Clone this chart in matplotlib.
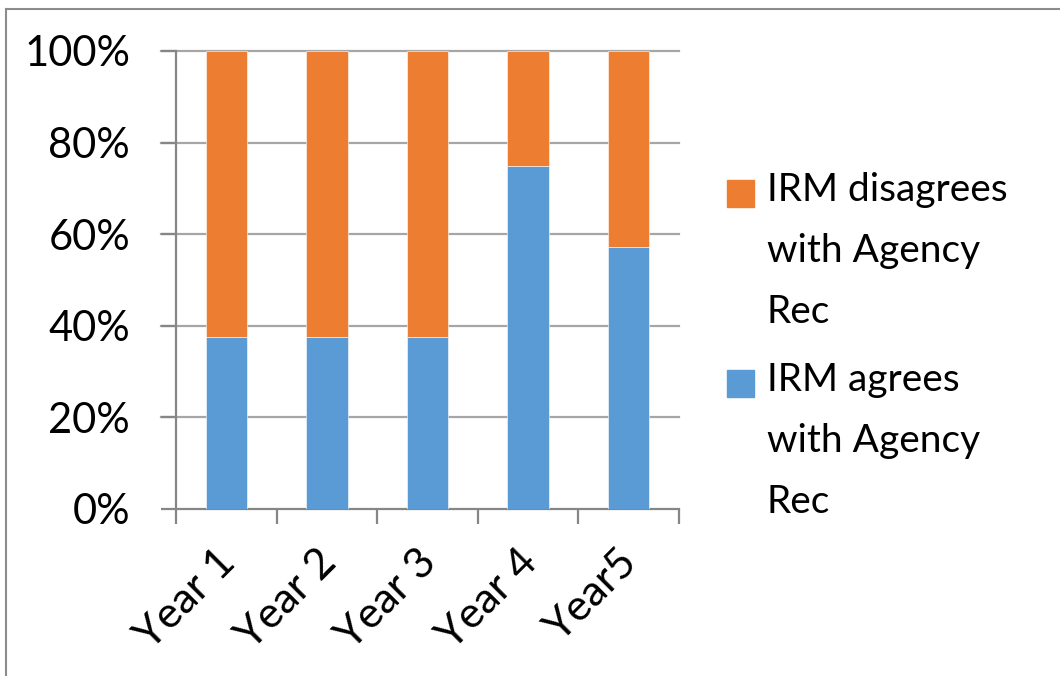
import matplotlib
matplotlib.use("Agg")
import matplotlib.pyplot as plt
from matplotlib.lines import Line2D
from matplotlib.patches import Rectangle
from matplotlib.transforms import ScaledTranslation
import numpy as np

categories = ["Year 1", "Year 2", "Year 3", "Year 4", "Year5"]
agrees = [37.5, 37.5, 37.5, 75.0, 57.1]
disagrees = [62.5, 62.5, 62.5, 25.0, 42.9]
series_labels = ["IRM disagrees\nwith Agency\nRec", "IRM agrees\nwith Agency\nRec"]
y_ticks = [0, 20, 40, 60, 80, 100]
y_tick_labels = ["0%", "20%", "40%", "60%", "80%", "100%"]

BLUE = "#5B9BD5"
ORANGE = "#ED7D31"
AXIS_GRAY = "#868686"
GRID_GRAY = "#A6A6A6"

plt.rcParams["font.family"] = ["Lato", "DejaVu Sans"]

W, H = 1060, 676
fig = plt.figure(figsize=(W / 100, H / 100), dpi=100)
ax = fig.add_axes([176 / W, 1 - 509 / H, (679 - 176) / W, (509 - 51) / H])

x = np.arange(len(categories))
ax.bar(x, agrees, width=0.41, color=BLUE, edgecolor="white", linewidth=0.4, zorder=3)
ax.bar(x, disagrees, width=0.41, bottom=agrees, color=ORANGE,
       edgecolor="white", linewidth=0.4, zorder=3)

ax.set_xlim(-0.5, len(categories) - 0.5)
ax.set_ylim(0, 100)

# horizontal gridlines extending over the tick marks on the left
for yv in y_ticks[1:]:
    ax.add_line(Line2D([-0.5 - 15 / 100.6, len(categories) - 0.5], [yv, yv],
                       color=GRID_GRAY, lw=1.6, clip_on=False, zorder=1))

for side in ["top", "right"]:
    ax.spines[side].set_visible(False)
for side in ["left", "bottom"]:
    ax.spines[side].set_color(AXIS_GRAY)
    ax.spines[side].set_linewidth(1.6)

ax.set_yticks(y_ticks)
ax.set_yticklabels(y_tick_labels, fontsize=30)
ax.tick_params(axis="y", length=11, width=1.6, color=AXIS_GRAY, pad=22)

# category boundary ticks below the axis
ax.set_xticks(np.arange(-0.5, len(categories), 1.0), minor=False)
ax.set_xticklabels([])
ax.tick_params(axis="x", which="major", length=11, width=1.6, color=AXIS_GRAY)
ax.set_xticks(x, minor=True)
ax.set_xticklabels(categories, minor=True, fontsize=31, rotation=45,
                   ha="right", va="top", rotation_mode="default")
ax.tick_params(axis="x", which="minor", length=0, pad=24)
shift = ScaledTranslation(16 / 100, 0, fig.dpi_scale_trans)
for lbl in ax.get_xticklabels(minor=True):
    lbl.set_transform(lbl.get_transform() + shift)

# legend drawn in figure pixels; each label is placed by its last line's baseline
legend_colors = [ORANGE, BLUE]
legend_tops = [180, 370]
line_step = 58.6
for label, color, top in zip(series_labels, legend_colors, legend_tops):
    fig.patches.append(Rectangle((727 / W, 1 - (top + 27) / H), 27 / W, 27 / H,
                                 transform=fig.transFigure, color=color))
    last_baseline = top + 26 + (label.count("\n")) * line_step
    fig.text(767 / W, 1 - last_baseline / H, label, fontsize=28, va="baseline",
             ha="left", linespacing=1.86)

# chart area frame (top and left edges)
fig.add_artist(Line2D([6 / W, 6 / W], [0, 1 - 9 / H], color="#8C8C8C", lw=1.5,
                      transform=fig.transFigure))
fig.add_artist(Line2D([6 / W, 1], [1 - 9 / H, 1 - 9 / H], color="#8C8C8C", lw=1.5,
                      transform=fig.transFigure))

fig.savefig("out.png", dpi=100, facecolor="white")
